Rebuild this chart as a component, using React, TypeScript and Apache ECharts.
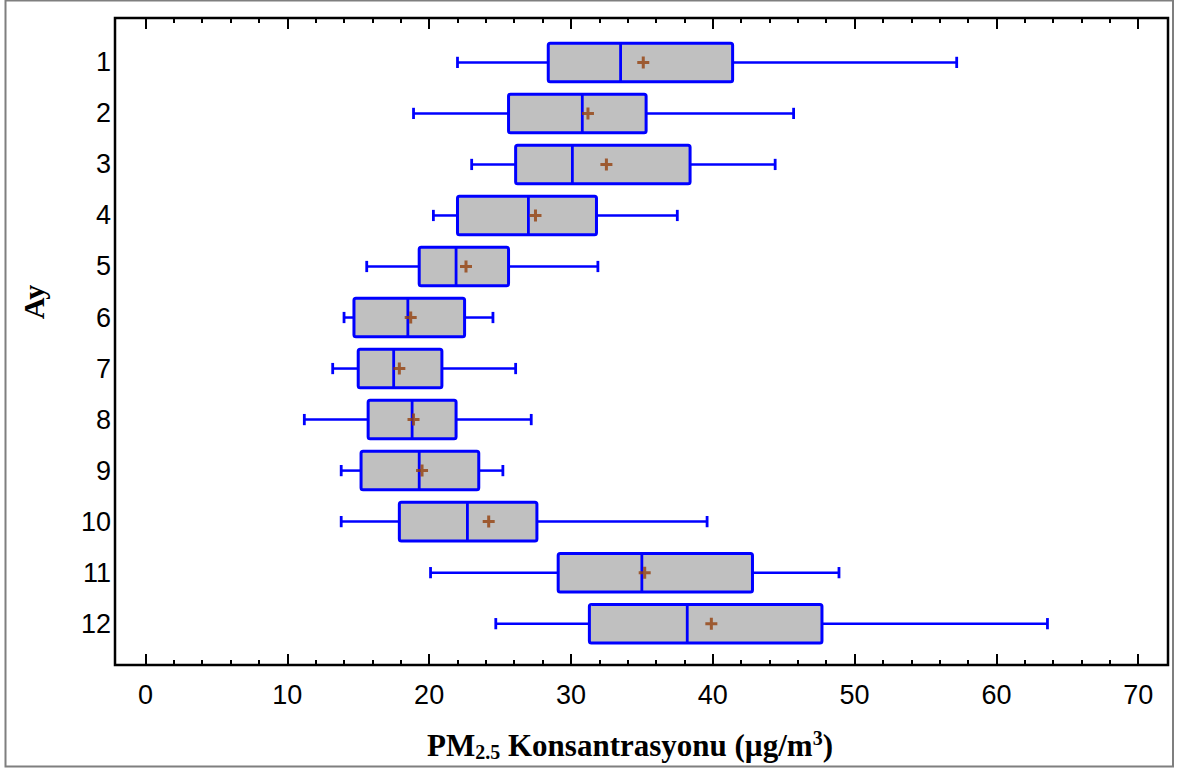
import React, { useEffect, useRef } from "react";
import * as echarts from "echarts";

// Monthly PM2.5 distribution (µg/m³): whiskers, quartiles, median and mean
const months = ["1", "2", "3", "4", "5", "6", "7", "8", "9", "10", "11", "12"];
const monthPos = [1, 2, 3, 4, 5, 6, 7, 8, 9, 10, 11, 12];
const whiskerLow = [22.0, 18.9, 23.0, 20.3, 15.6, 14.0, 13.2, 11.2, 13.8, 13.8, 20.1, 24.7];
const q1 = [28.4, 25.6, 26.1, 22.0, 19.3, 14.7, 15.0, 15.7, 15.2, 17.9, 29.1, 31.3];
const median = [33.5, 30.8, 30.1, 27.0, 21.9, 18.5, 17.5, 18.8, 19.3, 22.7, 35.0, 38.2];
const q3 = [41.4, 35.3, 38.4, 31.8, 25.6, 22.5, 20.9, 21.9, 23.5, 27.6, 42.8, 47.7];
const whiskerHigh = [57.2, 45.7, 44.4, 37.5, 31.9, 24.5, 26.1, 27.2, 25.2, 39.6, 48.9, 63.6];
const mean = [35.1, 31.2, 32.5, 27.5, 22.6, 18.7, 17.9, 18.9, 19.5, 24.2, 35.2, 39.9];

const majorTicks = [0, 10, 20, 30, 40, 50, 60, 70];
const minorTicks = [
  2, 4, 6, 8, 12, 14, 16, 18, 22, 24, 26, 28, 32, 34, 36, 38, 42, 44, 46, 48,
  52, 54, 56, 58, 62, 64, 66, 68,
];

const X_MIN = -2.15;
const X_MAX = 72.1;
const Y_MIN = 0.13;
const Y_MAX = 12.81;
const BOX_H = 0.755;
const CAP_H = 0.22;

const BLUE = "#0000ff";
const BOX_FILL = "#c0c0c0";
const MEAN_COLOR = "#94400c";
const SANS = "'Liberation Sans', Arial, sans-serif";
const SERIF = "'Liberation Serif', 'Times New Roman', serif";

const GRID = { left: 115, right: 15, top: 18, bottom: 106 };

export default function App() {
  const ref = useRef<HTMLDivElement>(null);

  useEffect(() => {
    if (!ref.current) return;
    const chart = echarts.init(ref.current, undefined, { renderer: "svg" });

    const boxData = monthPos.map((p, i) => [
      p,
      whiskerLow[i],
      q1[i],
      median[i],
      q3[i],
      whiskerHigh[i],
    ]);
    const meanData = monthPos.map((p, i) => [mean[i], p]);

    const xBase = (gridIndex: number, position: string, ticks: number[], len: number, labels: boolean) => ({
      type: "value",
      gridIndex,
      position,
      min: X_MIN,
      max: X_MAX,
      axisLine: { show: false },
      splitLine: { show: false },
      axisTick: {
        show: true,
        inside: true,
        length: len,
        customValues: ticks,
        lineStyle: { color: "#000", width: 2 },
      },
      axisLabel: labels
        ? {
            show: true,
            customValues: majorTicks,
            fontSize: 27,
            fontFamily: SANS,
            color: "#000",
            margin: 16,
          }
        : { show: false },
    });

    chart.setOption({
      animation: false,
      backgroundColor: "#ffffff",
      grid: [
        { ...GRID, show: true, borderColor: "#000", borderWidth: 2.5, backgroundColor: "transparent" },
        { ...GRID, show: false },
      ],
      xAxis: [
        xBase(0, "bottom", majorTicks, 11, true),
        xBase(0, "top", majorTicks, 11, false),
        xBase(1, "bottom", minorTicks, 5, false),
        xBase(1, "top", minorTicks, 5, false),
      ],
      yAxis: [
        {
          type: "value",
          gridIndex: 0,
          inverse: true,
          min: Y_MIN,
          max: Y_MAX,
          axisLine: { show: false },
          axisTick: { show: false },
          splitLine: { show: false },
          axisLabel: {
            show: true,
            customValues: monthPos,
            formatter: (v: number) => months[Math.round(v) - 1] ?? "",
            fontSize: 27,
            fontFamily: SANS,
            color: "#000",
            margin: 4,
          },
        },
        {
          type: "value",
          gridIndex: 1,
          inverse: true,
          min: Y_MIN,
          max: Y_MAX,
          show: false,
        },
      ],
      series: [
        {
          type: "custom",
          xAxisIndex: 0,
          yAxisIndex: 0,
          data: boxData,
          encode: { x: [1, 2, 3, 4, 5], y: 0 },
          renderItem: (params: any, api: any) => {
            const y = api.value(0);
            const lo = api.coord([api.value(1), y]);
            const b1 = api.coord([api.value(2), y]);
            const md = api.coord([api.value(3), y]);
            const b3 = api.coord([api.value(4), y]);
            const hi = api.coord([api.value(5), y]);
            const h = api.size([0, BOX_H])[1];
            const cap = api.size([0, CAP_H])[1];
            const cy = lo[1];
            const lineStyle = { stroke: BLUE, lineWidth: 2.5 };
            return {
              type: "group",
              children: [
                { type: "line", shape: { x1: lo[0], y1: cy, x2: b1[0], y2: cy }, style: lineStyle },
                { type: "line", shape: { x1: b3[0], y1: cy, x2: hi[0], y2: cy }, style: lineStyle },
                { type: "line", shape: { x1: lo[0], y1: cy - cap / 2, x2: lo[0], y2: cy + cap / 2 }, style: { stroke: BLUE, lineWidth: 2.8 } },
                { type: "line", shape: { x1: hi[0], y1: cy - cap / 2, x2: hi[0], y2: cy + cap / 2 }, style: { stroke: BLUE, lineWidth: 2.8 } },
                {
                  type: "rect",
                  shape: { x: b1[0], y: cy - h / 2, width: b3[0] - b1[0], height: h, r: 2 },
                  style: { fill: BOX_FILL, stroke: BLUE, lineWidth: 3 },
                },
                { type: "line", shape: { x1: md[0], y1: cy - h / 2, x2: md[0], y2: cy + h / 2 }, style: { stroke: BLUE, lineWidth: 2.8 } },
              ],
            };
          },
          z: 2,
        },
        {
          type: "scatter",
          xAxisIndex: 0,
          yAxisIndex: 0,
          data: meanData,
          symbol: "path://M4.5,0H7.5V4.5H12V7.5H7.5V12H4.5V7.5H0V4.5H4.5Z",
          symbolSize: 12,
          itemStyle: { color: MEAN_COLOR },
          z: 3,
        },
      ],
      graphic: [
        {
          type: "rect",
          shape: { x: 5.5, y: 0.5, width: 1167.5, height: 766 },
          style: { fill: "none", stroke: "#7f7f7f", lineWidth: 2 },
          silent: true,
          z: 10,
        },
        {
          type: "text",
          x: 630,
          y: 745,
          style: {
            text: "{a|PM}{sub|2.5}{a| Konsantrasyonu (µg/m}{sup|3}{a|)}",
            align: "center",
            verticalAlign: "middle",
            rich: {
              a: { fontFamily: SERIF, fontWeight: "bold", fontSize: 31, lineHeight: 34, fill: "#000" },
              sub: { fontFamily: SERIF, fontWeight: "bold", fontSize: 20, lineHeight: 18, verticalAlign: "bottom", fill: "#000" },
              sup: { fontFamily: SERIF, fontWeight: "bold", fontSize: 20, lineHeight: 28, verticalAlign: "top", fill: "#000" },
            },
          },
        },
        {
          type: "text",
          x: 33,
          y: 302,
          rotation: Math.PI / 2,
          style: {
            text: "Ay",
            align: "center",
            verticalAlign: "middle",
            fontFamily: SERIF,
            fontWeight: "bold",
            fontSize: 30,
            fill: "#000",
          },
        },
      ],
    });

    return () => chart.dispose();
  }, []);

  return (
    <div
      ref={ref}
      style={{ position: "absolute", left: 0, top: 0, width: 1183, height: 771 }}
    />
  );
}
